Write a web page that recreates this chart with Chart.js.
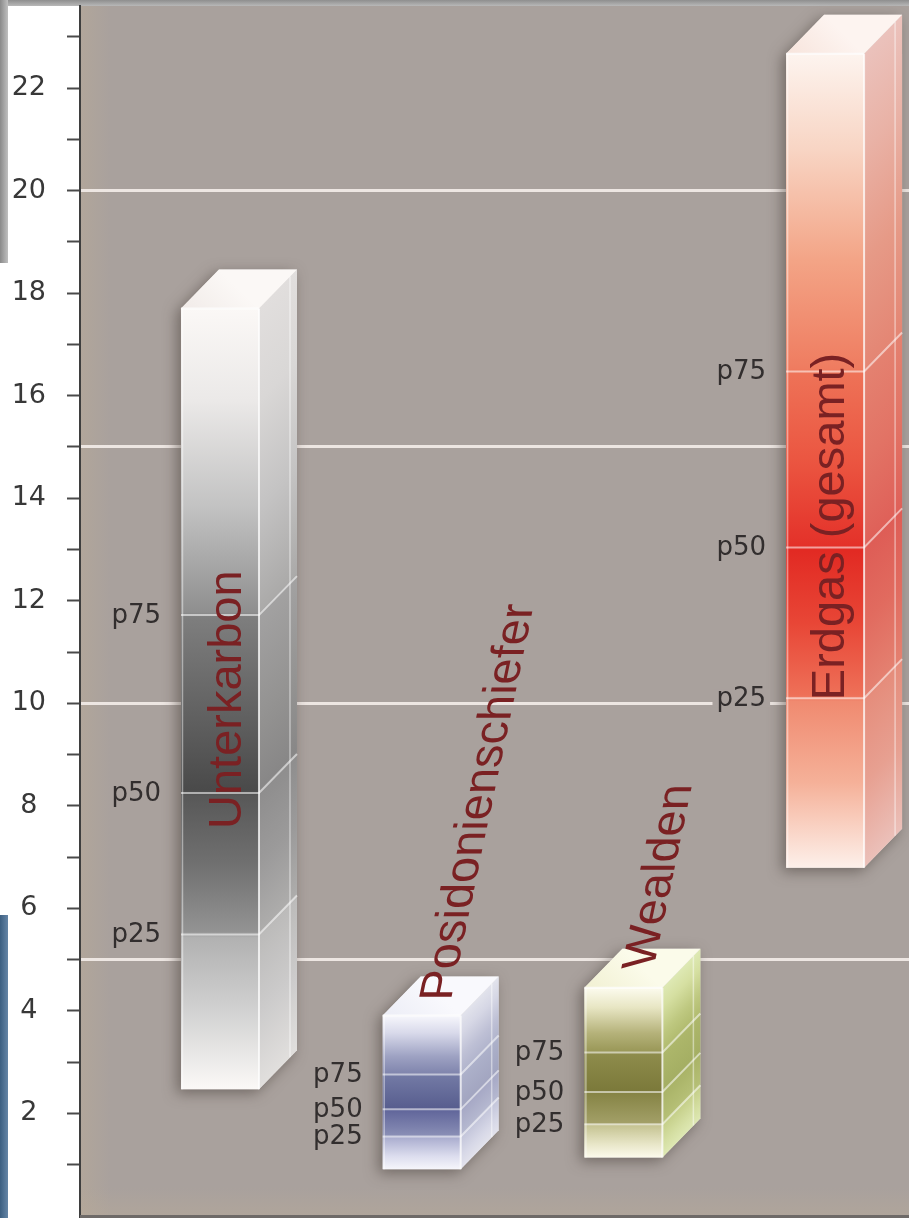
<!DOCTYPE html>
<html>
<head>
<meta charset="utf-8">
<script src="https://cdn.jsdelivr.net/npm/chart.js@4.4.1/dist/chart.umd.min.js"></script>
<style>
  html, body { margin: 0; padding: 0; background: #ffffff; }
  #wrap { width: 909px; height: 1218px; position: relative; }
</style>
</head>
<body>
<div id="wrap"><canvas id="chart" width="909" height="1218"></canvas></div>
<script>
// ---- data -------------------------------------------------------------
const categories = ['Unterkarbon', 'Posidonienschiefer', 'Wealden', 'Erdgas (gesamt)'];
const minValues  = [2.47, 0.91, 1.14, 6.79];
const maxValues  = [17.70, 3.91, 4.45, 22.67];
const p25Values  = [5.49, 1.55, 1.79, 10.10];
const p50Values  = [8.25, 2.08, 2.42, 13.04];
const p75Values  = [11.72, 2.76, 3.19, 16.47];
const percentileLabels = ['p75', 'p50', 'p25'];
const yTickValues = [1, 2, 3, 4, 5, 6, 7, 8, 9, 10, 11, 12, 13, 14, 15, 16, 17, 18, 19, 20, 21, 22, 23];
const yTickLabels = ['', '2', '', '4', '', '6', '', '8', '', '10', '', '12', '', '14', '', '16', '', '18', '', '20', '', '22', ''];
const yGridValues = [5, 10, 15, 20];

// ---- look -------------------------------------------------------------
const W = 909, H = 1218;
const DEPTH = { x: 38, y: 39 };
const PLOT_BG = '#a9a19d';
const NAME_COLOR = '#7a2123';
const LABEL_COLOR = '#322e2e';
const NAME_FONT = '47px "Liberation Sans", Arial, sans-serif';
const LABEL_FONT = '26px "DejaVu Sans", Verdana, sans-serif';

// colour stops along each box: 0 = top, 1 = p75, 2 = p50, 3 = p25, 4 = bottom
const seriesStyle = [
  {
    front: [[0, '#fbf8f6'], [0.3, '#ebe9e8'], [0.65, '#c2c2c2'], [0.99, '#8f8f8f'], [1.01, '#7e7e7e'],
            [1.6, '#5f5f5f'], [1.98, '#4a4a4a'], [2.02, '#585858'], [2.5, '#707070'], [2.98, '#939393'],
            [3.02, '#b1b1b1'], [3.5, '#d2d2d2'], [4, '#fbf9f7']],
    sideTint: '#c6c4c3', sideMix: 0.5, top: ['#f1ebe8', '#fbf8f6'],
    name: { ref: 'p50', dx: -18, dy: 36, slant: 0 }
  },
  {
    front: [[0, '#f7f7fc'], [0.3, '#d8d9ea'], [0.7, '#9da1c2'], [0.98, '#8085ad'], [1.02, '#737aa5'],
            [1.98, '#575d8e'], [2.02, '#60659a'], [2.98, '#8a8fb6'], [3.02, '#a9acce'], [3.6, '#dcddee'],
            [4, '#f6f6fb']],
    sideTint: '#d4d5e2', sideMix: 0.6, top: ['#ecedf6', '#f9f9fd'],
    name: { ref: 'max', dx: -10, dy: -15, slant: 0.21 }
  },
  {
    front: [[0, '#fcfbee'], [0.3, '#e8e6c4'], [0.7, '#b5b27a'], [0.98, '#9a9858'], [1.02, '#8e8c4c'],
            [1.98, '#7b793a'], [2.02, '#858344'], [2.98, '#a3a068'], [3.02, '#c4c290'], [3.6, '#e8e6c8'],
            [4, '#fcfaec']],
    sideTint: '#c6da84', sideMix: 0.55, top: ['#f1f0d2', '#fbfbea'],
    name: { ref: 'max', dx: -9, dy: -19, slant: 0.21 }
  },
  {
    front: [[0, '#fdf4ef'], [0.3, '#f8d5c4'], [0.65, '#f3a486'], [0.99, '#ef7c60'], [1.01, '#ee7257'],
            [1.5, '#eb5641'], [1.98, '#e4322a'], [2.02, '#e22a23'], [2.5, '#e84636'], [2.98, '#ee7058'],
            [3.02, '#f08a70'], [3.5, '#f5b199'], [4, '#fdf0ea']],
    sideTint: '#d98f88', sideMix: 0.5, top: ['#f7e4dc', '#fdf4f0'],
    name: { ref: 'p25', dx: -20, dy: 2, slant: 0 }
  }
];

const refValues = { max: maxValues, p75: p75Values, p50: p50Values, p25: p25Values, min: minValues };

// ---- helpers ----------------------------------------------------------
function hexToRgb(h) {
  const n = parseInt(h.slice(1), 16);
  return [(n >> 16) & 255, (n >> 8) & 255, n & 255];
}
function mix(a, b, t) {
  const A = hexToRgb(a), B = hexToRgb(b);
  return 'rgb(' + A.map((v, i) => Math.round(v + (B[i] - v) * t)).join(',') + ')';
}
function anchorPixels(chart, i) {
  const y = chart.scales.y;
  return [maxValues[i], p75Values[i], p50Values[i], p25Values[i], minValues[i]].map(v => y.getPixelForValue(v));
}
function stopPixel(a, s) {
  const k = Math.min(3, Math.floor(s));
  return a[k] + (a[k + 1] - a[k]) * (s - k);
}
function addStops(g, a, stops, tint, ratio) {
  const span = a[4] - a[0];
  stops.forEach(([s, c]) => {
    const p = Math.max(0, Math.min(1, (stopPixel(a, s) - a[0]) / span));
    g.addColorStop(p, tint ? mix(c, tint, ratio) : c);
  });
}
function frontFill(context) {
  if (context.type !== 'data') return 'transparent';
  const chart = context.chart;
  if (!chart.chartArea || !chart.scales.y) return 'transparent';
  const i = context.dataIndex;
  const a = anchorPixels(chart, i);
  const g = chart.ctx.createLinearGradient(0, a[0], 0, a[4]);
  addStops(g, a, seriesStyle[i].front);
  return g;
}
function boxGeometry(chart, i) {
  const el = chart.getDatasetMeta(0).data[i];
  const p = el.getProps(['x', 'y', 'base', 'width'], true);
  return {
    xL: p.x - p.width / 2, xR: p.x + p.width / 2,
    yTop: Math.min(p.y, p.base), yBot: Math.max(p.y, p.base)
  };
}

// ---- 3D box drawing ---------------------------------------------------
const boxPlugin = {
  id: 'boxes3d',
  beforeDraw(chart) {
    const ctx = chart.ctx, ca = chart.chartArea;
    ctx.save();
    ctx.fillStyle = '#ffffff';
    ctx.fillRect(0, 0, W, H);
    // frame remnants around the picture
    const gTop = ctx.createLinearGradient(0, 0, 0, ca.top);
    gTop.addColorStop(0, '#8e8e8e'); gTop.addColorStop(1, '#b8b8b8');
    ctx.fillStyle = gTop; ctx.fillRect(0, 0, W, ca.top);
    const gLeft = ctx.createLinearGradient(0, 0, 9, 0);
    gLeft.addColorStop(0, '#8a8a8a'); gLeft.addColorStop(1, '#c6c6c6');
    ctx.fillStyle = gLeft; ctx.fillRect(0, 0, 8, 263);
    const gBlue = ctx.createLinearGradient(0, 0, 9, 0);
    gBlue.addColorStop(0, '#3c5f81'); gBlue.addColorStop(1, '#6a8aab');
    ctx.fillStyle = gBlue; ctx.fillRect(0, 915, 8, H - 915);
    // plot background
    ctx.fillStyle = PLOT_BG;
    ctx.fillRect(ca.left, ca.top, W - ca.left, H - ca.top);
    const gBand = ctx.createLinearGradient(ca.left, 0, ca.left + 30, 0);
    gBand.addColorStop(0, 'rgba(184,170,152,0.55)'); gBand.addColorStop(1, 'rgba(184,170,152,0)');
    ctx.fillStyle = gBand; ctx.fillRect(ca.left, ca.top, 30, H - ca.top);
    const gFoot = ctx.createLinearGradient(0, ca.bottom - 28, 0, ca.bottom);
    gFoot.addColorStop(0, 'rgba(184,170,152,0)'); gFoot.addColorStop(1, 'rgba(184,170,152,0.45)');
    ctx.fillStyle = gFoot; ctx.fillRect(ca.left, ca.bottom - 28, W - ca.left, 28);
    ctx.restore();
  },
  beforeDatasetsDraw(chart) {
    // soft shadow under each box
    const ctx = chart.ctx;
    categories.forEach((c, i) => {
      const b = boxGeometry(chart, i);
      ctx.save();
      ctx.shadowColor = 'rgba(70,60,55,0.55)';
      ctx.shadowBlur = 14;
      ctx.shadowOffsetX = -4;
      ctx.shadowOffsetY = 4;
      ctx.fillStyle = '#d8d4d2';
      ctx.beginPath();
      ctx.moveTo(b.xL, b.yTop);
      ctx.lineTo(b.xL + DEPTH.x, b.yTop - DEPTH.y);
      ctx.lineTo(b.xR + DEPTH.x, b.yTop - DEPTH.y);
      ctx.lineTo(b.xR + DEPTH.x, b.yBot - DEPTH.y);
      ctx.lineTo(b.xR, b.yBot);
      ctx.lineTo(b.xL, b.yBot);
      ctx.closePath();
      ctx.fill();
      ctx.restore();
    });
  },
  afterDatasetsDraw(chart) {
    const ctx = chart.ctx;
    const yScale = chart.scales.y;
    const gridPx = yGridValues.map(v => yScale.getPixelForValue(v));
    categories.forEach((name, i) => {
      const st = seriesStyle[i];
      const b = boxGeometry(chart, i);
      const a = anchorPixels(chart, i);
      const dx = DEPTH.x, dy = DEPTH.y;
      ctx.save();

      // side face
      const k = (a[4] - a[0]) * dx / (dx * dx + dy * dy);
      const gs = ctx.createLinearGradient(b.xR, a[0], b.xR + k * dy, a[0] + k * dx);
      addStops(gs, a, st.front, st.sideTint, st.sideMix);
      ctx.fillStyle = gs;
      ctx.beginPath();
      ctx.moveTo(b.xR, b.yTop);
      ctx.lineTo(b.xR + dx, b.yTop - dy);
      ctx.lineTo(b.xR + dx, b.yBot - dy);
      ctx.lineTo(b.xR, b.yBot);
      ctx.closePath();
      ctx.fill();

      // top face
      const gt = ctx.createLinearGradient(b.xL, b.yTop, b.xL + dx, b.yTop - dy);
      gt.addColorStop(0, st.top[0]);
      gt.addColorStop(1, st.top[1]);
      ctx.fillStyle = gt;
      ctx.beginPath();
      ctx.moveTo(b.xL, b.yTop);
      ctx.lineTo(b.xR, b.yTop);
      ctx.lineTo(b.xR + dx, b.yTop - dy);
      ctx.lineTo(b.xL + dx, b.yTop - dy);
      ctx.closePath();
      ctx.fill();

      // edge highlights
      ctx.strokeStyle = 'rgba(255,255,255,0.75)';
      ctx.lineWidth = 2;
      ctx.beginPath();
      ctx.moveTo(b.xR, b.yTop); ctx.lineTo(b.xR, b.yBot);
      ctx.moveTo(b.xL, b.yTop); ctx.lineTo(b.xR, b.yTop);
      ctx.stroke();
      ctx.strokeStyle = 'rgba(255,255,255,0.45)';
      ctx.lineWidth = 1.5;
      ctx.beginPath();
      ctx.moveTo(b.xL + 1.5, b.yTop); ctx.lineTo(b.xL + 1.5, b.yBot);
      ctx.moveTo(b.xR + dx - 7, b.yTop - dy + 7); ctx.lineTo(b.xR + dx - 7, b.yBot - dy + 7);
      ctx.stroke();

      // percentile lines on front and side
      const pv = [p75Values[i], p50Values[i], p25Values[i]];
      ctx.strokeStyle = 'rgba(255,255,255,0.55)';
      ctx.lineWidth = 2;
      pv.forEach(v => {
        const yp = yScale.getPixelForValue(v);
        ctx.beginPath();
        ctx.moveTo(b.xL, yp); ctx.lineTo(b.xR, yp);
        ctx.lineTo(b.xR + dx, yp - dy);
        ctx.stroke();
      });

      // percentile labels
      ctx.font = LABEL_FONT;
      ctx.textAlign = 'right';
      ctx.textBaseline = 'middle';
      pv.forEach((v, j) => {
        const yp = yScale.getPixelForValue(v);
        const tx = b.xL - 20;
        const w = ctx.measureText(percentileLabels[j]).width;
        if (gridPx.some(g => Math.abs(g - yp) < 14)) {
          ctx.fillStyle = PLOT_BG;
          ctx.fillRect(tx - w - 4, yp - 9, w + 8, 18);
        }
        ctx.fillStyle = LABEL_COLOR;
        ctx.fillText(percentileLabels[j], tx, yp + 1);
      });

      // category name
      const n = st.name;
      const yRef = yScale.getPixelForValue(refValues[n.ref][i]);
      ctx.font = NAME_FONT;
      ctx.fillStyle = NAME_COLOR;
      ctx.textAlign = 'left';
      ctx.textBaseline = 'alphabetic';
      ctx.translate(b.xR + n.dx, yRef + n.dy);
      ctx.transform(n.slant, -1, 1, 0, 0, 0);
      ctx.fillText(name, 0, 0);
      ctx.restore();
    });
  },
  afterDraw(chart) {
    const ctx = chart.ctx, ca = chart.chartArea;
    ctx.save();
    ctx.fillStyle = '#6e6a68';
    ctx.fillRect(ca.left, ca.bottom - 1, W - ca.left, H - ca.bottom + 1);
    ctx.restore();
  }
};

// ---- chart ------------------------------------------------------------
new Chart(document.getElementById('chart'), {
  type: 'bar',
  data: {
    labels: categories,
    datasets: [{
      data: categories.map((c, i) => ({ x: i, y: [minValues[i], maxValues[i]] })),
      backgroundColor: frontFill,
      hoverBackgroundColor: frontFill,
      borderWidth: 0,
      barThickness: 78,
      inflateAmount: 0
    }]
  },
  options: {
    responsive: false,
    animation: false,
    events: [],
    devicePixelRatio: 1,
    layout: { padding: { left: 0, right: 0, top: 6, bottom: 2 } },
    plugins: { legend: { display: false }, tooltip: { enabled: false } },
    scales: {
      x: { type: 'linear', min: -0.694, max: 3.416, offset: false, grid: { offset: false }, display: false },
      y: {
        min: 0,
        max: 23.6,
        afterBuildTicks: axis => { axis.ticks = yTickValues.map(v => ({ value: v })); },
        afterFit: axis => {
          axis.width = 80;
          axis.paddingTop = 0;
          axis.paddingBottom = 0;
        },
        ticks: {
          autoSkip: false,
          callback: v => yTickLabels[yTickValues.indexOf(v)] ?? '',
          font: { family: '"DejaVu Sans", Verdana, sans-serif', size: 27 },
          color: '#383838',
          padding: 21,
          crossAlign: 'center'
        },
        grid: {
          drawOnChartArea: true,
          color: c => (c.tick && yGridValues.includes(c.tick.value)) ? '#ede6e2' : 'rgba(0,0,0,0)',
          lineWidth: 3,
          tickColor: '#4a4a4a',
          tickWidth: 2,
          tickLength: 13
        },
        border: { display: true, color: '#3e3e3e', width: 2 }
      }
    }
  },
  plugins: [boxPlugin]
});
</script>
</body>
</html>
